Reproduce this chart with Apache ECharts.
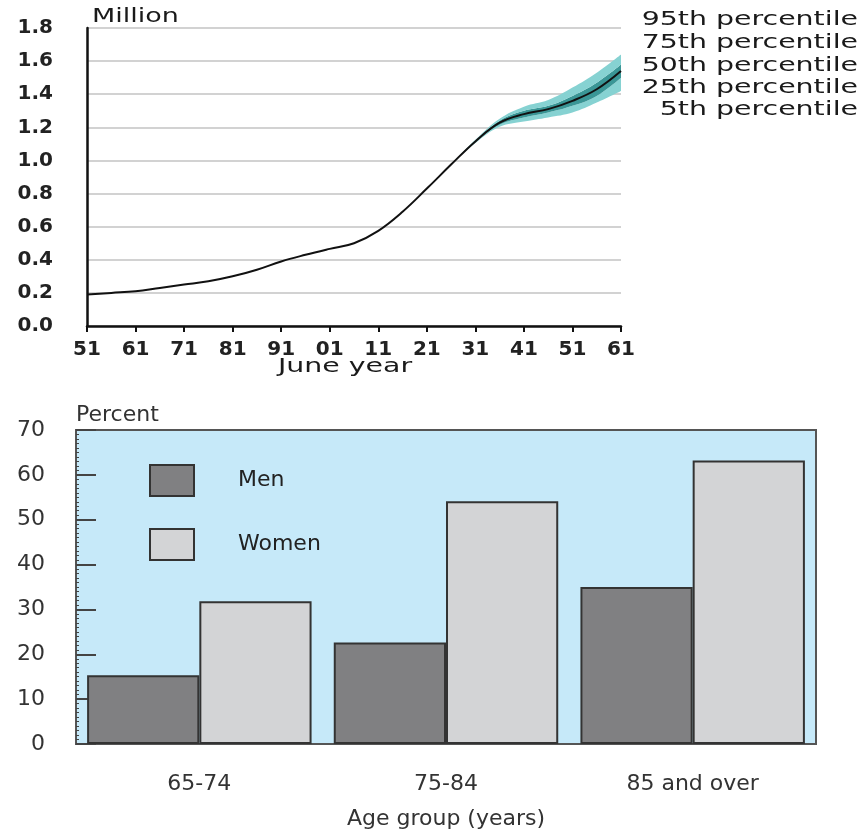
<!DOCTYPE html>
<html><head><meta charset="utf-8">
<script src="https://cdn.jsdelivr.net/npm/echarts@6/dist/echarts.min.js"></script>
<style>html,body{margin:0;padding:0;background:#fff}#c{width:865px;height:831px}</style>
</head><body><div id="c"></div>
<script>
// ---- Top chart: population projection (million) ----
const years = [1951,1956,1961,1966,1971,1976,1981,1986,1991,1996,2001,2006,2011,2016,2021,2026,2031,2036,2041,2046,2051,2056,2061];
const median = [0.19,0.20,0.21,0.23,0.25,0.27,0.30,0.34,0.39,0.43,0.466,0.50,0.575,0.69,0.83,0.975,1.115,1.228,1.28,1.31,1.36,1.43,1.54];
const fanYears = [2026,2031,2036,2041,2046,2051,2056,2061];
const p95 = [0.975,1.125,1.252,1.325,1.365,1.44,1.53,1.64];
const p75 = [0.975,1.12,1.24,1.30,1.33,1.39,1.47,1.58];
const p25 = [0.975,1.11,1.216,1.26,1.29,1.33,1.39,1.50];
const p5  = [0.975,1.105,1.203,1.235,1.26,1.29,1.35,1.42];
const percentileLabels = ['95th percentile','75th percentile','50th percentile','25th percentile','5th percentile'];

// ---- Bottom chart: percent by age group ----
const ageGroups = ['65-74','75-84','85 and over'];
const men = [15.3, 22.6, 35.0];
const women = [31.8, 54.1, 63.2];

const fanStart = years.indexOf(fanYears[0]);
function fanSeries(arr){
  return years.map((y,i)=> i<fanStart ? '-' : arr[i-fanStart]);
}
function diff(a,b){ return a.map((v,i)=> +(v-b[i]).toFixed(4)); }

const TOPFONT = 'DejaVu Sans';
const BOTFONT = 'DejaVu Sans';
const SX = 1.42;

const chart = echarts.init(document.getElementById('c'), null, {renderer:'canvas'});

const graphicTexts = [];
graphicTexts.push({type:'text', x:92, y:17, scaleX:SX, style:{text:'Million', font:'19px "'+TOPFONT+'"', fill:'#1a1a1a', textAlign:'left', textVerticalAlign:'middle'}});
graphicTexts.push({type:'text', x:345, y:367, scaleX:SX, style:{text:'June year', font:'20px "'+TOPFONT+'"', fill:'#1a1a1a', textAlign:'center', textVerticalAlign:'middle'}});
const labelY = [20,43,66,88,110];
percentileLabels.forEach((t,i)=>{
  graphicTexts.push({type:'text', x:858, y:labelY[i], scaleX:SX, style:{text:t, font:'20px "'+TOPFONT+'"', fill:'#1a1a1a', textAlign:'right', textVerticalAlign:'middle'}});
});

const fanCommon = {type:'line', xAxisIndex:0, yAxisIndex:0, stack:'fan', symbol:'none', smooth:0.4, lineStyle:{width:0, opacity:0}, silent:true};

chart.setOption({
  animation:false,
  backgroundColor:'#fff',
  graphic: graphicTexts,
  legend: {
    data:['Men','Women'], orient:'vertical', left:144, top:459, icon:'rect',
    itemWidth:44, itemHeight:31, itemGap:31,
    textStyle:{fontFamily:BOTFONT, fontSize:22, color:'#222', padding:[0,0,0,39]}
  },
  grid: [
    {left:87, top:28, width:534, height:298},
    {left:76, top:430, width:740, height:323, show:true, backgroundColor:'#c6e9f9', borderColor:'#555', borderWidth:2}
  ],
  xAxis: [
    {type:'category', gridIndex:0, data:years, boundaryGap:false,
     axisLine:{lineStyle:{color:'#111', width:2.5}},
     axisTick:{interval:1, length:6, lineStyle:{color:'#111', width:2}},
     axisLabel:{interval:1, formatter:v=>String(v).slice(2), fontFamily:TOPFONT, fontWeight:'bold', fontSize:20, color:'#222', margin:14},
     splitLine:{show:false}},
    {type:'category', gridIndex:1, data:ageGroups,
     axisLine:{lineStyle:{color:'#555', width:2}},
     axisTick:{show:false},
     axisLabel:{fontFamily:BOTFONT, fontSize:22, color:'#333', margin:29},
     name:'Age group (years)', nameLocation:'middle', nameGap:64,
     nameTextStyle:{fontFamily:BOTFONT, fontSize:22, color:'#333'}}
  ],
  yAxis: [
    {type:'value', gridIndex:0, min:0, max:1.8, interval:0.2,
     axisLine:{show:true, lineStyle:{color:'#111', width:2.5}},
     axisTick:{show:false},
     axisLabel:{formatter:v=>v.toFixed(1), fontFamily:TOPFONT, fontWeight:'bold', fontSize:20, color:'#222', margin:34},
     splitLine:{lineStyle:{color:'#d2d2d2', width:2}}},
    {type:'value', gridIndex:1, min:0, max:70, interval:10,
     axisLine:{show:true, lineStyle:{color:'#555', width:2}},
     axisTick:{show:true, inside:true, length:20, lineStyle:{color:'#444', width:2}},
     minorTick:{show:true, splitNumber:10, length:3, lineStyle:{color:'#444', width:1}},
     axisLabel:{fontFamily:BOTFONT, fontSize:22, color:'#333', margin:31},
     splitLine:{show:false},
     name:'Percent', nameLocation:'end', nameGap:4,
     nameTextStyle:{fontFamily:BOTFONT, fontSize:22, color:'#333', align:'left'}}
  ],
  series: [
    Object.assign({}, fanCommon, {name:'p5', data:fanSeries(p5)}),
    Object.assign({}, fanCommon, {name:'p5-25', data:fanSeries(diff(p25,p5)), areaStyle:{color:'#86d2d2', opacity:1}}),
    Object.assign({}, fanCommon, {name:'p25-75', data:fanSeries(diff(p75,p25)), areaStyle:{color:'#3a9696', opacity:1}}),
    Object.assign({}, fanCommon, {name:'p75-95', data:fanSeries(diff(p95,p75)), areaStyle:{color:'#86d2d2', opacity:1}}),
    {type:'line', name:'Median', xAxisIndex:0, yAxisIndex:0, data:median, symbol:'none', smooth:0.4,
     lineStyle:{color:'#111', width:2}, z:5},
    {type:'bar', name:'Men', xAxisIndex:1, yAxisIndex:1, data:men, barGap:'0%', barCategoryGap:'9%',
     itemStyle:{color:'#808082', borderColor:'#333', borderWidth:2}},
    {type:'bar', name:'Women', xAxisIndex:1, yAxisIndex:1, data:women, barGap:'0%', barCategoryGap:'9%',
     itemStyle:{color:'#d3d4d6', borderColor:'#333', borderWidth:2}}
  ]
});
</script>
</body></html>
